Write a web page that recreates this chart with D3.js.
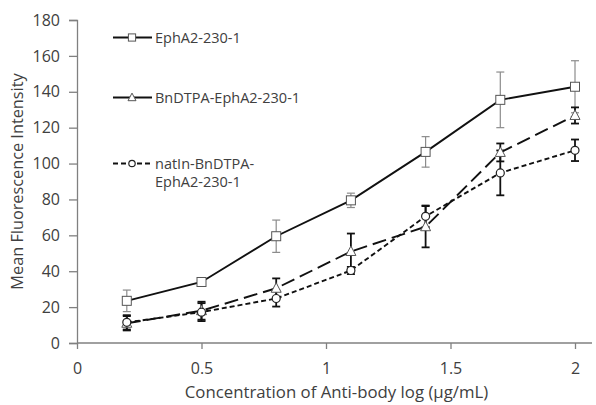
<!DOCTYPE html>
<html>
<head>
<meta charset="utf-8">
<script src="https://cdn.jsdelivr.net/npm/d3@7"></script>
<style>
  body { margin: 0; background: #fff; }
  text { font-family: "Open Sans", "Noto Sans", sans-serif; fill: #404040; }
</style>
</head>
<body>
<div id="chart"></div>
<script>
// x positions (log concentration)
const xValues = [0.2, 0.5, 0.8, 1.1, 1.4, 1.7, 2.0];

// series means and error bars
const ephaMean = [23.5, 34, 59.5, 79.5, 106.5, 135.5, 142.8];
const ephaErr = [6, 1, 9, 4, 8.5, 15.5, 14.5];
const bnMean = [11, 18, 30.5, 51, 64.8, 106.2, 126.8];
const bnErr = [4, 5, 5.5, 10, 11.5, 5, 4.5];
const natMean = [11.5, 17.2, 24.8, 40.4, 70.6, 94.8, 107.4];
const natErr = [4, 5, 4.5, 2, 6, 12.5, 6];

const xTicks = [0, 0.5, 1, 1.5, 2];
const yTicks = [0, 20, 40, 60, 80, 100, 120, 140, 160, 180];

const legendLabels = [["EphA2-230-1"], ["BnDTPA-EphA2-230-1"], ["natIn-BnDTPA-", "EphA2-230-1"]];

const width = 596, height = 405;
const margin = { top: 20, right: 4, bottom: 62, left: 77 };

const svg = d3.select("#chart").append("svg")
  .attr("width", width)
  .attr("height", height);

const x = d3.scaleLinear().domain([0, 2]).range([margin.left, 575]);
const y = d3.scaleLinear().domain([0, 180]).range([height - margin.bottom, margin.top]);

// axes
const xAxis = svg.append("g")
  .attr("transform", `translate(0, ${y(0)})`)
  .call(d3.axisBottom(x).tickValues(xTicks).tickSize(6).tickPadding(14).tickFormat(d3.format("")));
xAxis.select(".domain").attr("d", `M${x(0)},0H${width - 4}`);

const yAxis = svg.append("g")
  .attr("transform", `translate(${x(0)}, 0)`)
  .call(d3.axisLeft(y).tickValues(yTicks).tickSize(8).tickPadding(9));

svg.selectAll(".domain, .tick line").attr("stroke", "#808080").attr("stroke-width", 1.3);
svg.selectAll(".tick text").style("font-size", "16px").attr("fill", "#404040");

// axis titles
svg.append("text")
  .attr("x", 336.5)
  .attr("y", 398)
  .attr("text-anchor", "middle")
  .style("font-size", "16.8px")
  .text("Concentration of Anti-body log (µg/mL)");

svg.append("text")
  .attr("transform", `translate(23, ${(y(0) + y(180)) / 2}) rotate(-90)`)
  .attr("text-anchor", "middle")
  .style("font-size", "16.3px")
  .text("Mean Fluorescence Intensity");

const series = [
  { mean: ephaMean, err: ephaErr, dash: null, legendDash: null, marker: "square", errColor: "#8c8c8c", errWidth: 1.2 },
  { mean: bnMean, err: bnErr, dash: "14,6", legendDash: null, marker: "triangle", errColor: "#111", errWidth: 1.8 },
  { mean: natMean, err: natErr, dash: "5,3", legendDash: "5,3", marker: "circle", errColor: "#111", errWidth: 1.8 }
];

const line = d3.line().x(d => x(d[0])).y(d => y(d[1]));

function drawMarker(g, type, cx, cy, k) {
  if (type === "square") {
    g.append("rect").attr("x", cx - 4.5 * k).attr("y", cy - 4.5 * k).attr("width", 9 * k).attr("height", 9 * k)
      .attr("fill", "#fff").attr("stroke", "#555").attr("stroke-width", 1);
  } else if (type === "triangle") {
    g.append("path").attr("d", `M${cx},${cy - 5.5 * k}L${cx + 5 * k},${cy + 4 * k}L${cx - 5 * k},${cy + 4 * k}Z`)
      .attr("fill", "#fff").attr("stroke", "#555").attr("stroke-width", 1);
  } else {
    g.append("circle").attr("cx", cx).attr("cy", cy).attr("r", 4 * k)
      .attr("fill", "#fff").attr("stroke", "#222").attr("stroke-width", 1.2);
  }
}

series.forEach(s => {
  const pts = xValues.map((v, i) => [v, s.mean[i]]);
  // error bars
  const eg = svg.append("g");
  pts.forEach((p, i) => {
    const cx = x(p[0]);
    const top = y(p[1] + s.err[i]), bot = y(p[1] - s.err[i]);
    eg.append("line").attr("x1", cx).attr("x2", cx).attr("y1", top).attr("y2", bot)
      .attr("stroke", s.errColor).attr("stroke-width", s.errWidth);
    [top, bot].forEach(yy => eg.append("line").attr("x1", cx - 4).attr("x2", cx + 4).attr("y1", yy).attr("y2", yy)
      .attr("stroke", s.errColor).attr("stroke-width", s.errWidth));
  });
  svg.append("path").datum(pts).attr("d", line)
    .attr("fill", "none").attr("stroke", "#111").attr("stroke-width", 1.9)
    .attr("stroke-dasharray", s.dash);
});

series.forEach(s => {
  const mg = svg.append("g");
  xValues.forEach((v, i) => drawMarker(mg, s.marker, x(v), y(s.mean[i]), 1));
});

// legend
const legendY = [37.5, 97.5, 163.5];
series.forEach((s, i) => {
  const g = svg.append("g");
  g.append("line").attr("x1", 113).attr("x2", 152).attr("y1", legendY[i]).attr("y2", legendY[i])
    .attr("stroke", "#111").attr("stroke-width", 1.9)
    .attr("stroke-dasharray", s.legendDash);
  drawMarker(g, s.marker, 132, legendY[i], 0.8);
  legendLabels[i].forEach((t, j) => {
    g.append("text").attr("x", 155).attr("y", legendY[i] + 5 + j * 18)
      .style("font-size", "14.5px").text(t);
  });
});
</script>
</body>
</html>
